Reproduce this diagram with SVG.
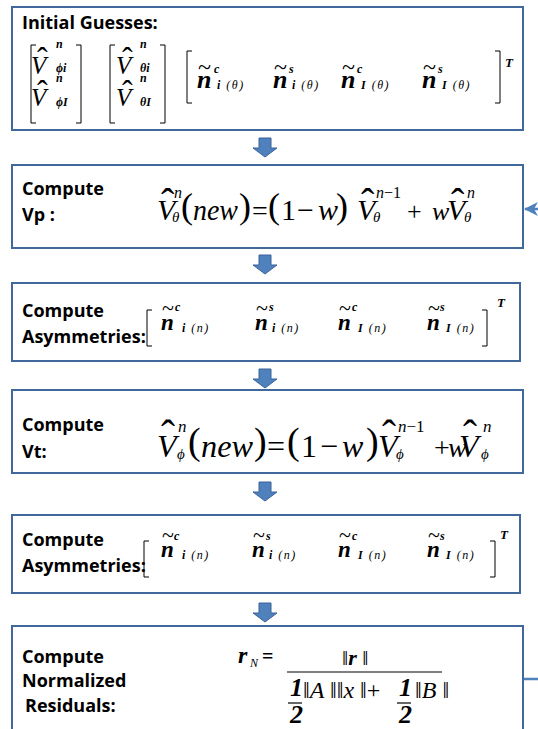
<svg xmlns="http://www.w3.org/2000/svg" width="538" height="729" viewBox="0 0 538 729">
<defs>
<style>
.box{fill:#fff;stroke:#41689a;stroke-width:2}
.lbl{font-family:"Open Sans","Liberation Sans",sans-serif;font-weight:bold;font-size:18px;fill:#000}
.m{font-family:"Liberation Serif","Times New Roman",Times,serif;font-style:italic;fill:#000}
.r{font-family:"Liberation Serif","Times New Roman",Times,serif;font-style:normal;fill:#000}
.b{font-weight:bold}
.brk{fill:none;stroke:#000;stroke-width:1}
.bar{stroke:#000;stroke-width:1.2}
.arr{fill:#4f81bd;stroke:#3a639a;stroke-width:1}
.fb{fill:none;stroke:#4f81bd;stroke-width:2.5}
</style>
<marker id="ah" markerWidth="14" markerHeight="14" refX="13" refY="7" orient="auto" markerUnits="userSpaceOnUse" viewBox="0 0 14 14">
<path d="M0,0 L14,7 L0,14 L4,7 Z" fill="#4f81bd"/>
</marker>
</defs>

<g id="connectors">
<path class="arr" d="M259,138 H271 V148 H277 L265,157 L253,148 H259 Z"/>
<path class="arr" d="M259,255 H271 V265 H277 L265,274 L253,265 H259 Z"/>
<path class="arr" d="M259,369 H271 V379 H277 L265,388 L253,379 H259 Z"/>
<path class="arr" d="M259,482 H271 V492 H277 L265,501 L253,492 H259 Z"/>
<path class="arr" d="M259,603 H271 V613 H277 L265,622 L253,613 H259 Z"/>
<path class="fb" d="M523,679 H560 V209 H525" marker-end="url(#ah)"/>
</g>

<g id="node-initial">
<rect class="box" x="12" y="7" width="511" height="123"/>
<text class="lbl" x="22" y="29">Initial Guesses:</text>
<path class="brk" d="M36,45 H31 V123 H36"/>
<path class="brk" d="M76,45 H81 V123 H76"/>
<text class="r" x="37" y="69" font-size="32">ˆ</text>
<text class="m" x="31" y="74" font-size="25">V</text>
<text class="m b" x="56" y="48" font-size="12">n</text>
<text class="m b" x="56" y="72" font-size="12">ϕi</text>
<text class="r" x="37" y="102" font-size="32">ˆ</text>
<text class="m" x="31" y="106" font-size="25">V</text>
<text class="m b" x="56" y="82" font-size="12">n</text>
<text class="m b" x="56" y="106" font-size="12">ϕI</text>
<path class="brk" d="M115,45 H110 V123 H115"/>
<path class="brk" d="M160,45 H165 V123 H160"/>
<text class="r" x="122" y="69" font-size="32">ˆ</text>
<text class="m" x="116" y="74" font-size="25">V</text>
<text class="m b" x="140" y="48" font-size="12">n</text>
<text class="m b" x="140" y="72" font-size="12">θi</text>
<text class="r" x="122" y="102" font-size="32">ˆ</text>
<text class="m" x="116" y="106" font-size="25">V</text>
<text class="m b" x="140" y="82" font-size="12">n</text>
<text class="m b" x="140" y="106" font-size="12">θI</text>
<path class="brk" d="M192,51 H187 V103 H192"/>
<path class="brk" d="M495,51 H500 V103 H495"/>
<text class="r" x="198" y="75" font-size="24">~</text>
<text class="m b" x="197" y="88" font-size="26">n</text>
<text class="m b" x="214" y="73" font-size="12">c</text>
<text class="m" x="217" y="89" font-size="12" letter-spacing="1.5"><tspan class="b">i</tspan> (θ)</text>
<text class="r" x="274" y="75" font-size="24">~</text>
<text class="m b" x="273" y="88" font-size="26">n</text>
<text class="m b" x="289" y="73" font-size="12">s</text>
<text class="m" x="292" y="89" font-size="12" letter-spacing="1.5"><tspan class="b">i</tspan> (θ)</text>
<text class="r" x="342" y="75" font-size="24">~</text>
<text class="m b" x="341" y="88" font-size="26">n</text>
<text class="m b" x="357" y="73" font-size="12">c</text>
<text class="m" x="361" y="89" font-size="12" letter-spacing="1.5"><tspan class="b">I</tspan> (θ)</text>
<text class="r" x="423" y="75" font-size="24">~</text>
<text class="m b" x="422" y="88" font-size="26">n</text>
<text class="m b" x="438" y="73" font-size="12">s</text>
<text class="m" x="442" y="89" font-size="12" letter-spacing="1.5"><tspan class="b">I</tspan> (θ)</text>
<text class="m b" x="505" y="67" font-size="13">T</text>
</g>

<g id="node-vp">
<rect class="box" x="12" y="165" width="511" height="83"/>
<text class="lbl" x="22" y="195">Compute</text>
<text class="lbl" x="22" y="221">Vp :</text>
<text class="r" x="161" y="216" font-size="40">ˆ</text>
<text class="m" x="157" y="220" font-size="30">V</text>
<text class="m" x="174" y="198" font-size="16">n</text>
<text class="m" x="172" y="222" font-size="15">θ</text>
<text class="r" x="181" y="218" font-size="36">(</text>
<text class="m" x="193" y="220" font-size="30" textLength="45" lengthAdjust="spacingAndGlyphs">new</text>
<text class="r" x="239" y="218" font-size="36">)</text>
<text class="r" x="252" y="220" font-size="28">=</text>
<text class="r" x="268" y="218" font-size="36">(</text>
<text class="r" x="281" y="220" font-size="30">1</text>
<text class="r" x="297" y="220" font-size="30">−</text>
<text class="m" x="318" y="220" font-size="30">w</text>
<text class="r" x="336" y="218" font-size="36">)</text>
<text class="r" x="361" y="216" font-size="40">ˆ</text>
<text class="m" x="357" y="220" font-size="30">V</text>
<text class="r" x="376" y="198" font-size="16"><tspan class="m">n</tspan>−1</text>
<text class="m" x="373" y="222" font-size="15">θ</text>
<text class="r" x="407" y="220" font-size="26">+</text>
<text class="m" x="432" y="220" font-size="26">w</text>
<text class="r" x="451" y="216" font-size="40">ˆ</text>
<text class="m" x="447" y="220" font-size="30">V</text>
<text class="m" x="467" y="198" font-size="16">n</text>
<text class="m" x="464" y="222" font-size="15">θ</text>
</g>

<g id="node-asym1">
<rect class="box" x="12" y="283" width="508" height="78"/>
<text class="lbl" x="22" y="317">Compute</text>
<text class="lbl" x="22" y="343">Asymmetries:</text>
<path class="brk" d="M152,310 H147 V346 H152"/>
<path class="brk" d="M482,310 H487 V346 H482"/>
<text class="r" x="162" y="315" font-size="22">~</text>
<text class="m b" x="161" y="330" font-size="23">n</text>
<text class="m b" x="175" y="311" font-size="12">c</text>
<text class="m" x="182" y="332" font-size="12" letter-spacing="1.5"><tspan class="b">i</tspan> (n)</text>
<text class="r" x="256" y="315" font-size="22">~</text>
<text class="m b" x="255" y="330" font-size="23">n</text>
<text class="m b" x="269" y="311" font-size="12">s</text>
<text class="m" x="272" y="332" font-size="12" letter-spacing="1.5"><tspan class="b">i</tspan> (n)</text>
<text class="r" x="339" y="315" font-size="22">~</text>
<text class="m b" x="338" y="330" font-size="23">n</text>
<text class="m b" x="352" y="311" font-size="12">c</text>
<text class="m" x="358" y="332" font-size="12" letter-spacing="1.5"><tspan class="b">I</tspan> (n)</text>
<text class="r" x="428" y="315" font-size="22">~</text>
<text class="m b" x="427" y="330" font-size="23">n</text>
<text class="m b" x="440" y="311" font-size="12">s</text>
<text class="m" x="446" y="332" font-size="12" letter-spacing="1.5"><tspan class="b">I</tspan> (n)</text>
<text class="m b" x="497" y="307" font-size="13">T</text>
</g>

<g id="node-vt">
<rect class="box" x="12" y="390" width="511" height="83"/>
<text class="lbl" x="22" y="431">Compute</text>
<text class="lbl" x="22" y="458">Vt:</text>
<text class="r" x="161" y="449" font-size="42">ˆ</text>
<text class="m" x="157" y="457" font-size="32">V</text>
<text class="m" x="178" y="432" font-size="17">n</text>
<text class="m" x="177" y="459" font-size="15">ϕ</text>
<text class="r" x="188" y="454" font-size="38">(</text>
<text class="m" x="201" y="457" font-size="32" textLength="52" lengthAdjust="spacingAndGlyphs">new</text>
<text class="r" x="254" y="454" font-size="38">)</text>
<text class="r" x="267" y="457" font-size="32">=</text>
<text class="r" x="287" y="454" font-size="38">(</text>
<text class="r" x="301" y="457" font-size="32">1</text>
<text class="r" x="320" y="457" font-size="32">−</text>
<text class="m" x="342" y="457" font-size="32">w</text>
<text class="r" x="366" y="454" font-size="38">)</text>
<text class="r" x="382" y="449" font-size="42">ˆ</text>
<text class="m" x="378" y="457" font-size="32">V</text>
<text class="r" x="398" y="432" font-size="17"><tspan class="m">n</tspan>−1</text>
<text class="m" x="396" y="459" font-size="15">ϕ</text>
<text class="r" x="434" y="457" font-size="28">+</text>
<text class="m" x="448" y="457" font-size="28">w</text>
<text class="r" x="463" y="449" font-size="42">ˆ</text>
<text class="m" x="459" y="457" font-size="32">V</text>
<text class="m" x="483" y="432" font-size="17">n</text>
<text class="m" x="481" y="459" font-size="15">ϕ</text>
</g>

<g id="node-asym2">
<rect class="box" x="12" y="515" width="508" height="78"/>
<text class="lbl" x="22" y="546">Compute</text>
<text class="lbl" x="22" y="572">Asymmetries:</text>
<path class="brk" d="M149,541 H144 V577 H149"/>
<path class="brk" d="M490,541 H495 V577 H490"/>
<text class="r" x="162" y="542" font-size="22">~</text>
<text class="m b" x="161" y="557" font-size="23">n</text>
<text class="m b" x="174" y="540" font-size="12">c</text>
<text class="m" x="182" y="559" font-size="12" letter-spacing="1.5"><tspan class="b">i</tspan> (n)</text>
<text class="r" x="253" y="542" font-size="22">~</text>
<text class="m b" x="252" y="557" font-size="23">n</text>
<text class="m b" x="266" y="540" font-size="12">s</text>
<text class="m" x="269" y="559" font-size="12" letter-spacing="1.5"><tspan class="b">i</tspan> (n)</text>
<text class="r" x="339" y="542" font-size="22">~</text>
<text class="m b" x="338" y="557" font-size="23">n</text>
<text class="m b" x="352" y="540" font-size="12">c</text>
<text class="m" x="358" y="559" font-size="12" letter-spacing="1.5"><tspan class="b">I</tspan> (n)</text>
<text class="r" x="428" y="542" font-size="22">~</text>
<text class="m b" x="427" y="557" font-size="23">n</text>
<text class="m b" x="440" y="540" font-size="12">s</text>
<text class="m" x="446" y="559" font-size="12" letter-spacing="1.5"><tspan class="b">I</tspan> (n)</text>
<text class="m b" x="500" y="539" font-size="13">T</text>
</g>

<g id="node-residuals">
<rect class="box" x="12" y="626" width="511" height="120"/>
<text class="lbl" x="22" y="663">Compute</text>
<text class="lbl" x="22" y="687">Normalized</text>
<text class="lbl" x="25" y="712">Residuals:</text>
<text class="m b" x="238" y="663" font-size="24">r</text>
<text class="m" x="250" y="667" font-size="12">N</text>
<text class="r b" x="262" y="663" font-size="20">=</text>
<line class="bar" x1="287" y1="672" x2="442" y2="672"/>
<text class="m" x="342" y="665" font-size="22">‖<tspan class="b">r</tspan> ‖</text>
<text class="m b" x="290" y="696" font-size="26">1</text>
<line class="bar" x1="288" y1="703" x2="302" y2="703"/>
<text class="m b" x="290" y="723" font-size="26">2</text>
<text class="m" x="303" y="698" font-size="24">‖A ‖‖x ‖<tspan class="r">+</tspan></text>
<text class="m b" x="399" y="696" font-size="26">1</text>
<line class="bar" x1="397" y1="703" x2="411" y2="703"/>
<text class="m b" x="399" y="723" font-size="26">2</text>
<text class="m" x="415" y="698" font-size="24">‖B ‖</text>
</g>
</svg>
